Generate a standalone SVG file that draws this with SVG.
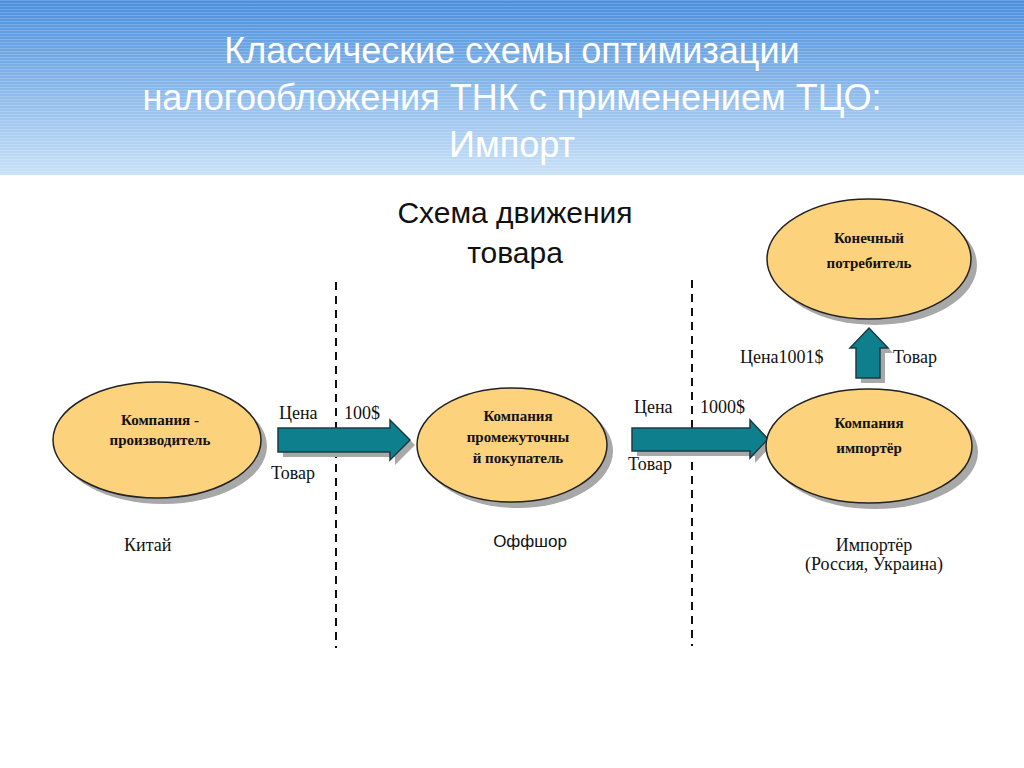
<svg xmlns="http://www.w3.org/2000/svg" width="1024" height="768" viewBox="0 0 1024 768">
<defs>
<linearGradient id="hg" x1="0" y1="0" x2="0" y2="1">
<stop offset="0" stop-color="#4a8fdc"/><stop offset="1" stop-color="#c9e1f8"/>
</linearGradient>
<pattern id="st" width="4" height="3" patternUnits="userSpaceOnUse"><rect width="4" height="1" fill="#ffffff" fill-opacity="0.18"/></pattern>
</defs>
<style>
.e{fill:#fcd27c;stroke:#222;stroke-width:1.5}
.sh{fill:#a8a8a8}
.b{font-family:"Liberation Serif",serif;font-weight:bold;font-size:15px;fill:#111;text-anchor:middle}
.t{font-family:"Liberation Serif",serif;font-size:18px;fill:#111}
.ar{fill:#0e7f8c;stroke:#1a3c44;stroke-width:1.5}
.d{stroke:#111;stroke-width:2;stroke-dasharray:8,6}
.h{font-family:"Liberation Sans",Arial,sans-serif;font-size:36px;fill:#fff;text-anchor:middle}
</style>
<rect width="1024" height="768" fill="#fff"/>
<rect width="1024" height="175" fill="url(#hg)"/>
<rect width="1024" height="175" fill="url(#st)"/>
<text class="h" x="512" y="63">Классические схемы оптимизации</text>
<text class="h" x="512" y="110">налогообложения ТНК с применением ТЦО:</text>
<text class="h" x="512" y="157">Импорт</text>
<text x="515" y="223" font-family="Liberation Sans,Arial,sans-serif" font-size="30" text-anchor="middle" fill="#111">Схема движения</text>
<text x="515" y="263" font-family="Liberation Sans,Arial,sans-serif" font-size="30" text-anchor="middle" fill="#111">товара</text>
<g id="connectors">
<line class="d" x1="336" y1="282" x2="336" y2="648"/>
<line class="d" x1="692" y1="280" x2="692" y2="646"/>
<path class="sh" d="M283,433 H395 V425 L415,445 L395,465 V457 H283 Z"/>
<path class="ar" d="M278,428 H390 V420 L410,440 L390,460 V452 H278 Z"/>
<path class="sh" d="M637,433 H755 V425 L773,444 L755,463 V456 H637 Z"/>
<path class="ar" d="M632,428 H750 V420 L768,439 L750,458 V451 H632 Z"/>
<path class="sh" d="M861,383 V353 H855 L874,333 L893,353 H885 V383 Z"/>
<path class="ar" d="M856,378 V348 H850 L869,328 L888,348 H880 V378 Z"/>
</g>
<g id="n1"><ellipse class="sh" cx="163" cy="446" rx="104" ry="58"/><ellipse class="e" cx="157" cy="440" rx="104" ry="58"/>
<text class="b" x="160" y="425">Компания -</text><text class="b" x="160" y="445">производитель</text></g>
<g id="n2"><ellipse class="sh" cx="518" cy="451" rx="95" ry="57"/><ellipse class="e" cx="512" cy="445" rx="95" ry="57"/>
<text class="b" x="518" y="421" font-size="14">Компания</text><text class="b" x="518" y="442" font-size="14">промежуточны</text><text class="b" x="518" y="463" font-size="14">й покупатель</text></g>
<g id="n3"><ellipse class="sh" cx="875" cy="452" rx="103" ry="57"/><ellipse class="e" cx="869" cy="446" rx="103" ry="57"/>
<text class="b" x="869" y="428" font-size="19">Компания</text><text class="b" x="869" y="453" font-size="19">импортёр</text></g>
<g id="n4"><ellipse class="sh" cx="875" cy="265" rx="102" ry="60"/><ellipse class="e" cx="869" cy="259" rx="102" ry="60"/>
<text class="b" x="869" y="243" font-size="16">Конечный</text><text class="b" x="869" y="268" font-size="16">потребитель</text></g>
<text class="t" x="279" y="419">Цена</text><text class="t" x="344" y="419">100$</text>
<text class="t" x="271" y="479">Товар</text>
<text class="t" x="634" y="413">Цена</text><text class="t" x="700" y="413">1000$</text>
<text class="t" x="628" y="470">Товар</text>
<text class="t" x="740" y="363">Цена1001$</text><text class="t" x="893" y="363">Товар</text>
<text class="t" x="124" y="551">Китай</text>
<text x="530" y="547" font-family="Liberation Sans,Arial,sans-serif" font-size="17" fill="#111" text-anchor="middle">Оффшор</text>
<text class="t" x="874" y="551" text-anchor="middle">Импортёр</text>
<text class="t" x="874" y="570" text-anchor="middle" font-size="14">(Россия, Украина)</text>
</svg>
